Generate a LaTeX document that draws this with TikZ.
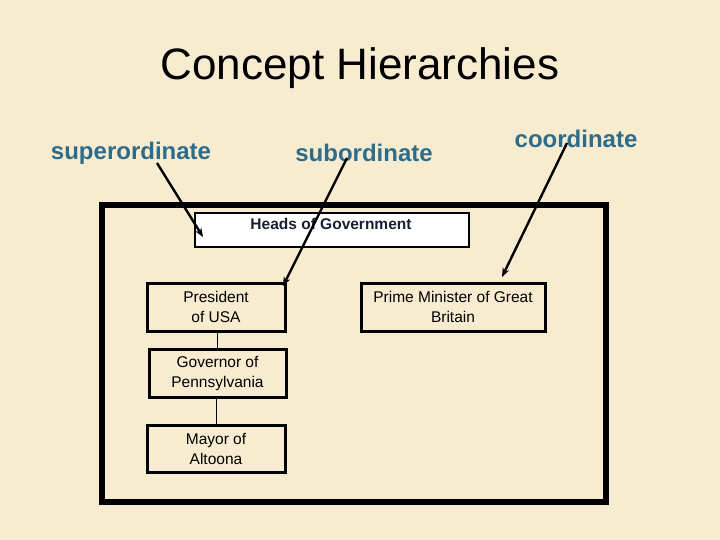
\documentclass[tikz,border=0pt]{standalone}
\usepackage{fontspec}
\setmainfont{Liberation Sans}
\usetikzlibrary{arrows.meta}
\definecolor{parch}{RGB}{248,236,208}
\definecolor{labelblue}{RGB}{45,108,138}
\definecolor{navy}{RGB}{22,32,52}
\tikzset{
  lbl/.style={text=labelblue, font=\fontsize{24}{28}\selectfont\bfseries, inner sep=0pt},
  boxnode/.style={draw=black, line width=3pt, fill=parch, align=center, inner sep=0pt, font=\fontsize{15.5}{20}\selectfont},
  pointer/.style={line width=2.4pt, -{Stealth[length=9pt,width=7pt]}},
  link/.style={line width=0.6pt}
}
\begin{document}
\begin{tikzpicture}[x=1pt,y=-1pt]
\fill[parch] (0,0) rectangle (720,540);
\useasboundingbox (0,0) rectangle (720,540);
\node[font=\fontsize{44}{50}\selectfont, inner sep=0pt] (title) at (360,68) {Concept Hierarchies};
\node[lbl] (sup) at (131,153) {superordinate};
\node[lbl] (sub) at (364,153) {subordinate};
\node[lbl] (coo) at (576,139) {coordinate};
\draw[line width=6pt] (102,205) rectangle (606,502);
\node[draw=black, line width=2pt, fill=white, minimum width=274pt, minimum height=34pt, inner sep=0pt, anchor=north west] (heads) at (194,212) {};
\node[font=\fontsize{15.5}{18}\selectfont\bfseries, text=navy, inner sep=0pt] (headst) at (331,224) {Heads of Government};
\node[boxnode, minimum width=138pt, minimum height=48pt] (pres) at (216,307) {President\\of USA};
\node[boxnode, minimum width=137pt, minimum height=48pt] (gov) at (217.5,373) {Governor of\\Pennsylvania};
\node[boxnode, minimum width=138pt, minimum height=47pt] (mayor) at (216,448.5) {Mayor of\\Altoona};
\node[boxnode, minimum width=184pt, minimum height=48pt] (pm) at (453,307) {Prime Minister of Great\\Britain};
\draw[link] ([xshift=1pt]pres.south) -- ([xshift=1pt]pres.south |- gov.north);
\draw[link] (gov.south -| mayor.north) -- (mayor.north);
\coordinate (supS) at (157,163);
\coordinate (supE) at (203,237);
\coordinate (subS) at (347,158);
\coordinate (subE) at (283,286);
\coordinate (cooS) at (567,143);
\coordinate (cooE) at (502,277);
\draw[pointer] (supS) -- (supE);
\draw[pointer] (subS) -- (subE);
\draw[pointer] (cooS) -- (cooE);
\end{tikzpicture}
\end{document}
